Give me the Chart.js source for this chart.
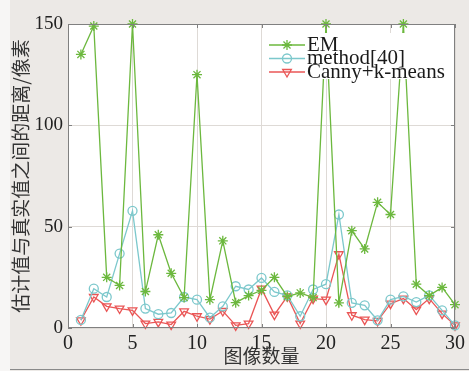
<!DOCTYPE html>
<html><head><meta charset="utf-8">
<script src="https://cdn.jsdelivr.net/npm/chart.js@4/dist/chart.umd.min.js"></script>
<style>html,body{margin:0;padding:0;background:#ece9e6;}#wrap{width:469px;height:371px;}</style>
</head><body><div id="wrap"><canvas id="c" width="469" height="371"></canvas></div>
<script>
const imageIndex = [1,2,3,4,5,6,7,8,9,10,11,12,13,14,15,16,17,18,19,20,21,22,23,24,25,26,27,28,29,30];
const emValues = [135,149,25,21,150,18,46,27,15,125,14,43,12.5,16,18.6,25,15.6,17.3,15,150,12.4,48,39,62,56,150,21.6,16,20,11.5];
const method40Values = [4,19.4,15.3,36.7,57.8,9.6,6.8,7.4,15.3,14,5.1,10.7,20.6,19,24.7,17.8,16.1,5.8,19,21.6,56,12.4,11.2,3.8,14,15.6,12.8,16.1,8.7,1.3];
const cannyKmeansValues = [3.8,15.3,10.7,9.6,8.7,2.2,3,1.7,8.2,5.8,4.4,8.4,1.3,2.2,19.4,6.6,15.6,2.2,14.5,14,36.4,6.3,4.1,3.5,12,14.5,9.1,14.5,7.1,1.3];
const seriesNames = ['EM','method[40]','Canny+k-means'];
const xTickValues = [0,5,10,15,20,25,30];
const yTickValues = [0,50,100,150];
const xAxisTitle = '图像数量';
const yAxisTitle = '估计值与真实值之间的距离/像素';

const GREEN = '#6cb83e', CYAN = '#7cc8cc', RED = '#ea5656';
const toPts = vals => imageIndex.map((x,i)=>({x:x,y:vals[i]}));
const serif = "'Liberation Serif','Times New Roman',serif";

const bgPlugin = {
  id:'bg',
  beforeDraw(chart){
    const {ctx, chartArea:a} = chart;
    ctx.save();
    ctx.fillStyle = '#ece9e6';
    ctx.fillRect(0,0,chart.width,chart.height);
    ctx.fillStyle = '#f7f6f5';
    ctx.fillRect(0,0,10,chart.height);
    ctx.fillStyle = '#8a8a8a';
    ctx.fillRect(10,chart.height-2,chart.width-10,1);
    ctx.fillStyle = '#ffffff';
    ctx.fillRect(a.left,a.top,a.right-a.left,a.bottom-a.top);
    ctx.restore();
  },
  afterDatasetsDraw(chart){
    const {ctx, chartArea:a, scales} = chart;
    ctx.save();
    ctx.strokeStyle = '#808080';
    ctx.lineWidth = 1;
    ctx.strokeRect(a.left+0.5,a.top+0.5,a.right-a.left-1,a.bottom-a.top-1);
    ctx.beginPath();
    xTickValues.forEach(v=>{
      const px = Math.round(scales.x.getPixelForValue(v))+0.5;
      ctx.moveTo(px,a.top); ctx.lineTo(px,a.top+4);
      ctx.moveTo(px,a.bottom); ctx.lineTo(px,a.bottom-4);
    });
    yTickValues.forEach(v=>{
      const py = Math.round(scales.y.getPixelForValue(v))+0.5;
      ctx.moveTo(a.left,py); ctx.lineTo(a.left+4,py);
      ctx.moveTo(a.right,py); ctx.lineTo(a.right-4,py);
    });
    ctx.stroke();
    // legend
    const lx = a.right - 191, ly = a.top + 9;
    ctx.fillStyle = '#ffffff';
    ctx.fillRect(lx, ly, 186, 46);
    chart.data.datasets.forEach((ds,i)=>{
      const cy = ly + 12 + i*13.5;
      ctx.strokeStyle = ds.borderColor;
      ctx.lineWidth = 1.3;
      ctx.beginPath(); ctx.moveTo(lx+5,cy); ctx.lineTo(lx+41,cy); ctx.stroke();
      ctx.fillStyle = 'rgba(0,0,0,0)';
      if (Chart.helpers && Chart.helpers.drawPoint) {
        Chart.helpers.drawPoint(ctx,{pointStyle:ds.pointStyle,radius:ds.pointRadius,rotation:ds.pointRotation||0,borderWidth:1.3},lx+23,cy);
      }
      ctx.fillStyle = '#1a1a1a';
      ctx.font = '21px ' + serif;
      ctx.textBaseline = 'middle';
      ctx.textAlign = 'left';
      ctx.fillText(seriesNames[i], lx+43, cy);
    });
    ctx.restore();
  }
};

new Chart(document.getElementById('c'), {
  type:'line',
  data:{datasets:[
    {label:seriesNames[0],data:toPts(emValues),borderColor:GREEN,backgroundColor:'rgba(0,0,0,0)',borderWidth:1.3,pointStyle:'star',pointRadius:5,pointBorderWidth:1.3,pointBorderColor:GREEN,clip:false},
    {label:seriesNames[1],data:toPts(method40Values),borderColor:CYAN,backgroundColor:'rgba(0,0,0,0)',borderWidth:1.3,pointStyle:'circle',pointRadius:4.5,pointBorderWidth:1.3,pointBorderColor:CYAN,clip:false},
    {label:seriesNames[2],data:toPts(cannyKmeansValues),borderColor:RED,backgroundColor:'rgba(0,0,0,0)',borderWidth:1.3,pointStyle:'triangle',pointRotation:180,pointRadius:5,pointBorderWidth:1.3,pointBorderColor:RED,clip:false}
  ]},
  options:{
    responsive:false, animation:false, devicePixelRatio:1,
    layout:{padding:{left:0,right:14,top:24,bottom:0}},
    plugins:{legend:{display:false},tooltip:{enabled:false}},
    scales:{
      x:{type:'linear',min:0,max:30,
        afterFit(s){s.height=43;},
        afterBuildTicks(s){s.ticks = xTickValues.map(v=>({value:v}));},
        grid:{color:'#dedad6',drawTicks:false,lineWidth:1},
        border:{display:false},
        ticks:{padding:4,color:'#222',font:{family:serif,size:20},maxRotation:0,autoSkip:false},
        title:{display:true,text:xAxisTitle,color:'#333',font:{family:"'Noto Sans CJK SC',sans-serif",size:19},padding:{top:0,bottom:4}}
      },
      y:{type:'linear',min:0,max:150,
        afterFit(s){s.width=68;},
        afterBuildTicks(s){s.ticks = yTickValues.map(v=>({value:v}));},
        grid:{color:'#dedad6',drawTicks:false,lineWidth:1},
        border:{display:false},
        ticks:{padding:5,color:'#222',font:{family:serif,size:19},autoSkip:false},
        title:{display:true,text:yAxisTitle,color:'#333',font:{family:"'Noto Sans CJK SC',sans-serif",size:19},padding:{top:9,bottom:0}}
      }
    }
  },
  plugins:[bgPlugin]
});
</script></body></html>
